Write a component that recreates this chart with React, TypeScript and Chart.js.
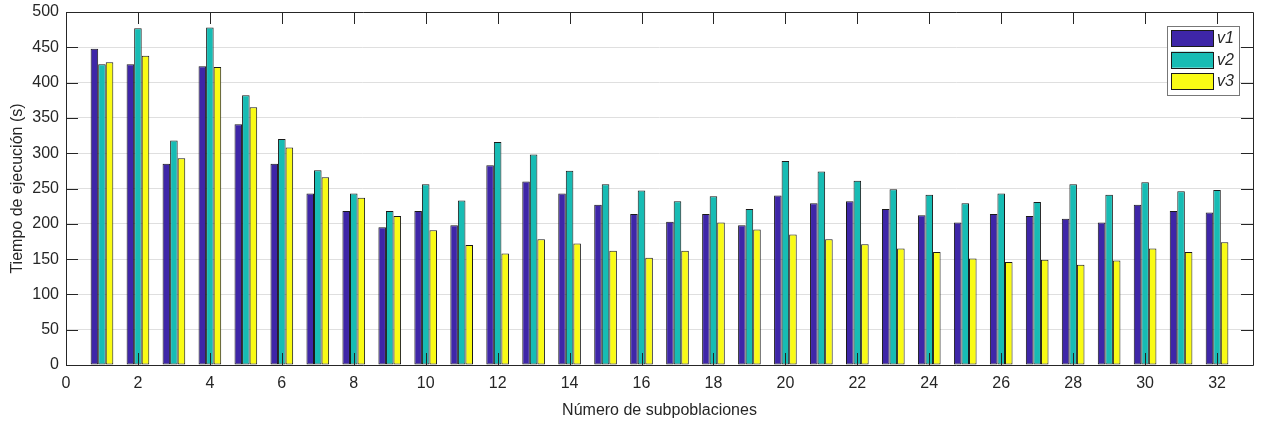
import React, { useEffect, useRef } from "react";
import { Chart, registerables } from "chart.js";

Chart.register(...registerables);

const groups = [1, 2, 3, 4, 5, 6, 7, 8, 9, 10, 11, 12, 13, 14, 15, 16, 17, 18, 19, 20, 21, 22, 23, 24, 25, 26, 27, 28, 29, 30, 31, 32];
const v1 = [448, 426, 285, 423, 341, 285, 243, 218, 195, 218, 198, 283, 260, 243, 227, 214, 203, 214, 198, 240, 229, 232, 221, 212, 202, 214, 211, 207, 202, 227, 218, 216];
const v2 = [426, 477, 318, 478, 382, 320, 276, 243, 218, 256, 233, 316, 298, 275, 256, 247, 232, 239, 221, 289, 274, 261, 249, 241, 229, 243, 231, 256, 241, 259, 246, 248];
const v3 = [429, 438, 293, 422, 365, 308, 266, 237, 211, 191, 170, 158, 178, 172, 162, 152, 162, 202, 192, 185, 178, 171, 165, 160, 151, 146, 149, 142, 148, 165, 160, 174];
const seriesLabels = ["v1", "v2", "v3"];
const seriesColors = ["#3e26a8", "#17bcb4", "#f9fb15"];
const xTitle = "Número de subpoblaciones";
const yTitle = "Tiempo de ejecución (s)";
const xMin = 0;
const xMax = 33;
const xStep = 2;
const yMin = 0;
const yMax = 500;
const yStep = 50;

const FONT = "'Liberation Sans', Arial, Helvetica, sans-serif";
const AXIS_COLOR = "#262626";

const framePlugin = {
  id: "matlabFrame",
  afterDatasetsDraw(chart: any) {
    const { ctx, chartArea } = chart;
    const { left, right, top, bottom } = chartArea;
    const xs = chart.scales.x;
    const ys = chart.scales.y;
    const tl = 12;
    ctx.save();
    ctx.strokeStyle = AXIS_COLOR;
    ctx.lineWidth = 1;
    xs.ticks.forEach((t: any) => {
      const px = Math.round(xs.getPixelForValue(t.value)) + 0.5;
      ctx.beginPath();
      ctx.moveTo(px, top);
      ctx.lineTo(px, top + tl);
      ctx.moveTo(px, bottom);
      ctx.lineTo(px, bottom - tl);
      ctx.stroke();
    });
    ys.ticks.forEach((t: any) => {
      const py = Math.round(ys.getPixelForValue(t.value)) + 0.5;
      ctx.beginPath();
      ctx.moveTo(right, py);
      ctx.lineTo(right - tl, py);
      ctx.moveTo(left, py);
      ctx.lineTo(left + tl, py);
      ctx.stroke();
    });
    ctx.beginPath();
    ctx.rect(Math.round(left) + 0.5, Math.round(top) + 0.5, Math.round(right - left), Math.round(bottom - top));
    ctx.stroke();
    ctx.restore();
  },
  afterDraw(chart: any) {
    const { ctx, chartArea } = chart;
    const bx = chartArea.right - 86;
    const by = chartArea.top + 14;
    const bw = 72;
    const bh = 69;
    ctx.save();
    ctx.fillStyle = "#ffffff";
    ctx.fillRect(bx, by, bw, bh);
    ctx.strokeStyle = "#777777";
    ctx.lineWidth = 1;
    ctx.strokeRect(bx + 0.5, by + 0.5, bw, bh);
    chart.data.datasets.forEach((ds: any, i: number) => {
      const sy = by + 4 + i * 21.7;
      ctx.fillStyle = ds.backgroundColor;
      ctx.fillRect(bx + 4, sy, 42, 16);
      ctx.strokeStyle = "#1a1a1a";
      ctx.strokeRect(bx + 4.5, Math.round(sy) + 0.5, 42, 16);
      ctx.fillStyle = AXIS_COLOR;
      ctx.font = `italic 16px ${FONT}`;
      ctx.textBaseline = "middle";
      ctx.textAlign = "left";
      ctx.fillText(ds.label, bx + 50, sy + 8.5);
    });
    ctx.restore();
  },
};

export default function App() {
  const ref = useRef<HTMLCanvasElement | null>(null);
  useEffect(() => {
    if (!ref.current) return;
    const series = [v1, v2, v3];
    const chart = new Chart(ref.current, {
      type: "bar",
      data: {
        datasets: series.map((vals, i) => ({
          label: seriesLabels[i],
          data: groups.map((g, j) => ({ x: g, y: vals[j] })),
          backgroundColor: seriesColors[i],
          borderColor: "#1a1a1a",
          borderWidth: 1,
          borderSkipped: false,
          categoryPercentage: 0.63,
          barPercentage: 1,
        })),
      },
      options: {
        animation: false,
        responsive: false,
        maintainAspectRatio: false,
        layout: { padding: { left: 0, right: 9, top: 12, bottom: 0 } },
        plugins: {
          legend: { display: false },
          tooltip: { enabled: false },
        },
        scales: {
          x: {
            type: "linear",
            min: xMin,
            max: xMax,
            offset: false,
            afterFit: (s: any) => {
              s.height = 57;
              s.paddingLeft = 0;
              s.paddingRight = 0;
            },
            grid: { display: false, drawTicks: false },
            border: { display: false },
            ticks: {
              stepSize: xStep,
              includeBounds: false,
              padding: 9,
              color: AXIS_COLOR,
              font: { family: FONT, size: 16 },
              maxRotation: 0,
              autoSkip: false,
            },
            title: {
              display: true,
              text: xTitle,
              color: AXIS_COLOR,
              font: { family: FONT, size: 16 },
              padding: { top: 0, bottom: 2 },
            },
          },
          y: {
            type: "linear",
            min: yMin,
            max: yMax,
            afterFit: (s: any) => {
              s.width = 66;
              s.paddingTop = 0;
              s.paddingBottom = 0;
            },
            grid: { color: "#dfdfdf", lineWidth: 1, drawTicks: false },
            border: { display: false },
            ticks: {
              stepSize: yStep,
              padding: 7,
              color: AXIS_COLOR,
              font: { family: FONT, size: 16 },
            },
            title: {
              display: true,
              text: yTitle,
              color: AXIS_COLOR,
              font: { family: FONT, size: 16 },
              padding: { top: 8, bottom: 0 },
            },
          },
        },
      },
      plugins: [framePlugin],
    } as any);
    return () => chart.destroy();
  }, []);
  return (
    <div style={{ position: "absolute", left: 0, top: 0, width: 1262, height: 422, background: "#fff" }}>
      <canvas ref={ref} width={1262} height={422} style={{ display: "block", width: 1262, height: 422 }} />
    </div>
  );
}
